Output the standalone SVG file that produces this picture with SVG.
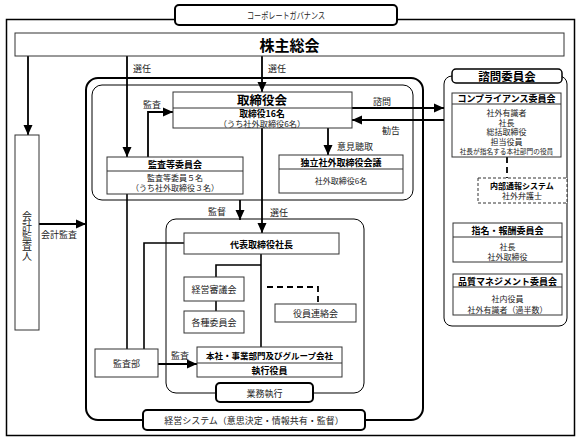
<svg xmlns="http://www.w3.org/2000/svg" width="582" height="442" viewBox="0 0 582 442">
<defs>
<marker id="ah" markerUnits="userSpaceOnUse" markerWidth="10" markerHeight="10" viewBox="0 0 10 10" refX="10" refY="5" orient="auto">
<path d="M0,0.5 L10,5 L0,9.5 Z" fill="#000"/>
</marker>
<style>
text{font-family:"Noto Sans CJK JP","Noto Sans",sans-serif;fill:#222;text-anchor:middle}
.b{font-weight:bold;fill:#000}
.s{font-size:9px}
.t{font-size:8px}
.xs{font-size:6.7px}
.box{fill:#fff;stroke:#333;stroke-width:1}
.frame{fill:none;stroke:#000;stroke-width:1.5}
.tab{fill:#fff;stroke:#000;stroke-width:2}
.ln{fill:none;stroke:#000;stroke-width:1.6}
.arr{fill:none;stroke:#000;stroke-width:1.8;marker-end:url(#ah)}
.dash{fill:none;stroke:#000;stroke-width:1.8;stroke-dasharray:6,4}
.lbl{font-size:9px;text-anchor:start}
</style>
</defs>

<g id="frames">
<rect x="6.5" y="19.5" width="568" height="416" class="frame"/>
<rect x="86" y="78" width="337" height="342" rx="12" fill="none" stroke="#000" stroke-width="2"/>
<rect x="92" y="85" width="321" height="115" rx="10" fill="none" stroke="#000" stroke-width="1"/>
<rect x="166" y="219" width="198" height="174" rx="10" fill="none" stroke="#000" stroke-width="1"/>
<rect x="444" y="76" width="123" height="250" rx="8" fill="none" stroke="#000" stroke-width="1"/>
</g>

<g id="connectors">
<line x1="28" y1="56" x2="28" y2="135" class="arr"/>
<line x1="127" y1="56" x2="127" y2="157" class="arr"/>
<line x1="262" y1="56" x2="262" y2="92" class="arr"/>
<line x1="39" y1="224" x2="86" y2="224" class="arr"/>
<polyline points="148,157 148,112 173,112" class="arr"/>
<line x1="352" y1="108" x2="444" y2="108" class="arr"/>
<line x1="444" y1="120" x2="352" y2="120" class="arr"/>
<line x1="328" y1="128" x2="328" y2="155" class="arr"/>
<line x1="262" y1="128" x2="262" y2="233" class="arr"/>
<line x1="240" y1="200" x2="240" y2="220" class="arr"/>
<line x1="507" y1="157" x2="507" y2="178" class="dash"/>
<line x1="261" y1="254" x2="261" y2="347" class="ln"/>
<polyline points="261,265 216,265 216,277" class="ln"/>
<line x1="216" y1="301" x2="216" y2="311" class="ln"/>
<polyline points="267,287 318,287 318,304" class="dash"/>
<line x1="127" y1="194" x2="127" y2="349" class="ln"/>
<polyline points="144,349 144,243 184,243" class="ln"/>
<line x1="158" y1="364" x2="197" y2="364" class="arr"/>
<text x="133" y="72" class="lbl">選任</text>
<text x="268" y="72" class="lbl">選任</text>
<text x="143" y="108" class="lbl">監査</text>
<text x="373" y="105" class="lbl">諮問</text>
<text x="382" y="134" class="lbl">勧告</text>
<text x="337" y="150" class="lbl">意見聴取</text>
<text x="208" y="215" class="lbl">監督</text>
<text x="270" y="216" class="lbl">選任</text>
<text x="41" y="238" class="lbl">会計監査</text>
<text x="171" y="359" class="lbl">監査</text>
</g>

<g id="title">
<rect x="175" y="5" width="222" height="20" rx="4" class="tab"/>
<text x="286" y="19" style="font-size:9px" textLength="78" lengthAdjust="spacingAndGlyphs">コーポレートガバナンス</text>
</g>

<g id="shareholders">
<rect x="15" y="33" width="549" height="23" class="box" stroke-width="1.2"/>
<text x="289.5" y="51" class="b" style="font-size:15px">株主総会</text>
</g>

<g id="auditor">
<rect x="15" y="135" width="24" height="195" class="box"/>
<text x="27" y="236" style="font-size:10px;writing-mode:vertical-rl">会計監査人</text>
</g>

<g id="board">
<rect x="173" y="92" width="179" height="36" class="box"/>
<line x1="173" y1="108" x2="352" y2="108" stroke="#333" stroke-width="1"/>
<text x="262" y="104.5" class="b" style="font-size:12.5px">取締役会</text>
<text x="262" y="116.5" class="b" style="font-size:8.8px">取締役16名</text>
<text x="262" y="126.8" style="font-size:8.2px">（うち社外取締役6名）</text>
</g>

<g id="audit-committee">
<rect x="107" y="157" width="136" height="37" class="box"/>
<line x1="107" y1="171" x2="243" y2="171" stroke="#333" stroke-width="1"/>
<text x="175" y="168" class="b s">監査等委員会</text>
<text x="175" y="181" class="t">監査等委員５名</text>
<text x="175" y="191" class="t">（うち社外取締役３名）</text>
</g>

<g id="independent">
<rect x="279" y="155" width="124" height="38" class="box"/>
<line x1="279" y1="169" x2="403" y2="169" stroke="#333" stroke-width="1"/>
<text x="341" y="166" class="b s">独立社外取締役会議</text>
<text x="341" y="184" class="t">社外取締役6名</text>
</g>

<g id="advisory">
<rect x="452" y="69" width="110" height="14" rx="4" fill="#fff" stroke="#000" stroke-width="1.5"/>
<text x="507" y="81" class="b" style="font-size:11.5px">諮問委員会</text>
</g>

<g id="compliance">
<rect x="452" y="93" width="109" height="64" class="box"/>
<line x1="452" y1="104" x2="561" y2="104" stroke="#333" stroke-width="1"/>
<text x="506.5" y="102" class="b s">コンプライアンス委員会</text>
<text x="506.5" y="116" class="t">社外有識者</text>
<text x="506.5" y="125.5" class="t">社長</text>
<text x="506.5" y="135" class="t">総括取締役</text>
<text x="506.5" y="144.5" class="t">担当役員</text>
<text x="506.5" y="153.5" class="xs">社長が指名する本社部門の役員</text>
</g>

<g id="whistle">
<rect x="478" y="178" width="89" height="25" fill="#fff" stroke="#333" stroke-width="1" stroke-dasharray="3,2"/>
<text x="522" y="189" class="b t">内部通報システム</text>
<text x="522" y="199" class="t">社外弁護士</text>
</g>

<g id="nomination">
<rect x="453" y="223" width="109" height="39" class="box"/>
<line x1="453" y1="237" x2="562" y2="237" stroke="#333" stroke-width="1"/>
<text x="507.5" y="234" class="b s">指名・報酬委員会</text>
<text x="507.5" y="250" class="t">社長</text>
<text x="507.5" y="260" class="t">社外取締役</text>
</g>

<g id="quality">
<rect x="453" y="274" width="109" height="41" class="box"/>
<line x1="453" y1="287" x2="562" y2="287" stroke="#333" stroke-width="1"/>
<text x="507.5" y="284.5" class="b s">品質マネジメント委員会</text>
<text x="507.5" y="302" class="t">社内役員</text>
<text x="507.5" y="312.5" class="t">社外有識者（過半数）</text>
</g>

<g id="president">
<rect x="184" y="233" width="155" height="21" class="box"/>
<text x="261.5" y="248" class="b s">代表取締役社長</text>
</g>

<g id="management-council">
<rect x="184" y="277" width="60" height="24" class="box"/>
<text x="214" y="293" class="s">経営審議会</text>
</g>

<g id="committees">
<rect x="184" y="311" width="60" height="22" class="box"/>
<text x="214" y="326" class="s">各種委員会</text>
</g>

<g id="officer-liaison">
<rect x="275" y="304" width="81" height="18" class="box"/>
<text x="315.5" y="317" class="s">役員連絡会</text>
</g>

<g id="executives">
<rect x="197" y="347" width="145" height="30" class="box"/>
<line x1="197" y1="363" x2="342" y2="363" stroke="#333" stroke-width="1"/>
<text x="269.5" y="359" class="b" style="font-size:8.5px">本社・事業部門及びグループ会社</text>
<text x="269.5" y="374" class="b s">執行役員</text>
</g>

<g id="audit-dept">
<rect x="95" y="349" width="63" height="28" class="box"/>
<text x="126.5" y="367" class="s">監査部</text>
</g>

<g id="business-execution">
<rect x="216" y="383" width="97" height="19" rx="4" class="tab"/>
<text x="264.5" y="396.5" class="s">業務執行</text>
</g>

<g id="management-system">
<rect x="143" y="410" width="222" height="20" rx="4" class="tab"/>
<text x="254" y="424" class="s">経営システム（意思決定・情報共有・監督）</text>
</g>
</svg>
